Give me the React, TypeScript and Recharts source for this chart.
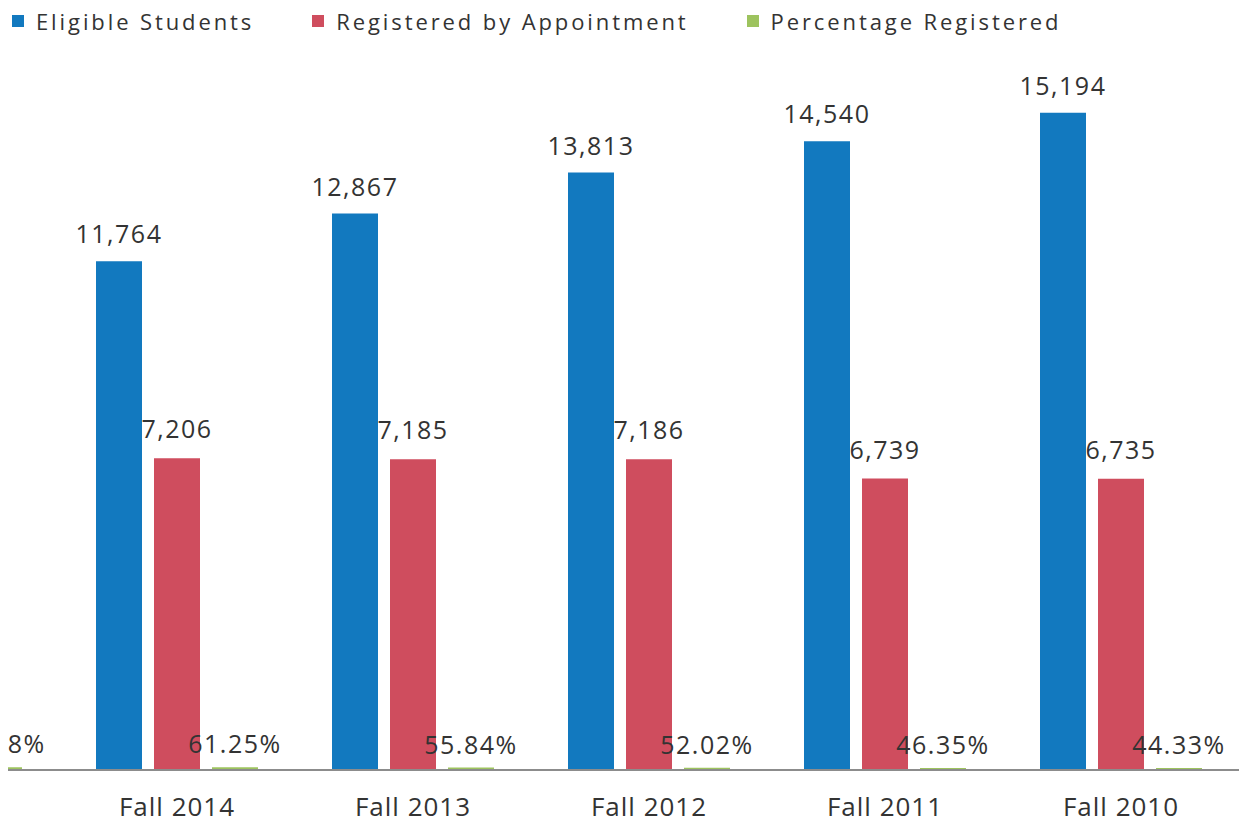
import { Bar, BarChart, LabelList, XAxis, YAxis } from "recharts";

// leftmost term is cropped off in the reference, only its percentage label tail shows
const terms = ["Fall 2015", "Fall 2014", "Fall 2013", "Fall 2012", "Fall 2011", "Fall 2010"];
const eligible = [11000, 11764, 12867, 13813, 14540, 15194];
const registered = [7291, 7206, 7185, 7186, 6739, 6735];
const pctRegistered = [66.28, 61.25, 55.84, 52.02, 46.35, 44.33];

const seriesNames = ["Eligible Students", "Registered by Appointment", "Percentage Registered"];
const seriesColors = ["#1279bf", "#cf4d5e", "#9dc35e"];

const data = terms.map((term, i) => ({
  term,
  eligible: eligible[i],
  registered: registered[i],
  pct: pctRegistered[i]
}));

const font = "'Open Sans', sans-serif";
const fmtNum = (v: number) => v.toLocaleString("en-US");
const fmtPct = (v: number) => `${v.toFixed(2)}%`;

const labelStyle = { fill: "#333", fontSize: 25, fontFamily: font, letterSpacing: 1.5 };

export default function App() {
  return (
    <div
      style={{
        position: "relative",
        width: 1253,
        height: 827,
        margin: -8,
        overflow: "hidden",
        background: "#fff",
        fontFamily: font
      }}
    >
      <div style={{ position: "absolute", left: -177, top: 0 }}>
        <BarChart
          width={1416}
          height={827}
          data={data}
          margin={{ top: 78, right: 0, left: 0, bottom: 0 }}
          barCategoryGap={37}
          barGap={12}
        >
          <XAxis
            dataKey="term"
            height={57}
            tickLine={false}
            tickSize={0}
            tickMargin={28}
            axisLine={{ stroke: "#8c8c8c", strokeWidth: 2 }}
            tick={{ fill: "#333", fontSize: 26, fontFamily: font, letterSpacing: 1 }}
          />
          <YAxis hide domain={[0, 16000]} />
          <Bar dataKey="eligible" fill={seriesColors[0]} isAnimationActive={false}>
            <LabelList dataKey="eligible" position="top" offset={18} formatter={fmtNum} {...labelStyle} />
          </Bar>
          <Bar dataKey="registered" fill={seriesColors[1]} isAnimationActive={false}>
            <LabelList dataKey="registered" position="top" offset={20} formatter={fmtNum} {...labelStyle} />
          </Bar>
          <Bar dataKey="pct" fill={seriesColors[2]} isAnimationActive={false}>
            <LabelList dataKey="pct" position="top" offset={14} formatter={fmtPct} {...labelStyle} />
          </Bar>
        </BarChart>
      </div>
      <div
        style={{
          position: "absolute",
          left: 12,
          top: 6,
          display: "flex",
          alignItems: "center",
          fontSize: 22,
          letterSpacing: 2.9,
          color: "#333"
        }}
      >
        {seriesNames.map((name, i) => (
          <div key={name} style={{ display: "flex", alignItems: "center", marginRight: [58, 58, 0][i] }}>
            <span style={{ width: 12, height: 12, background: seriesColors[i], marginRight: 12 }} />
            <span>{name}</span>
          </div>
        ))}
      </div>
    </div>
  );
}
